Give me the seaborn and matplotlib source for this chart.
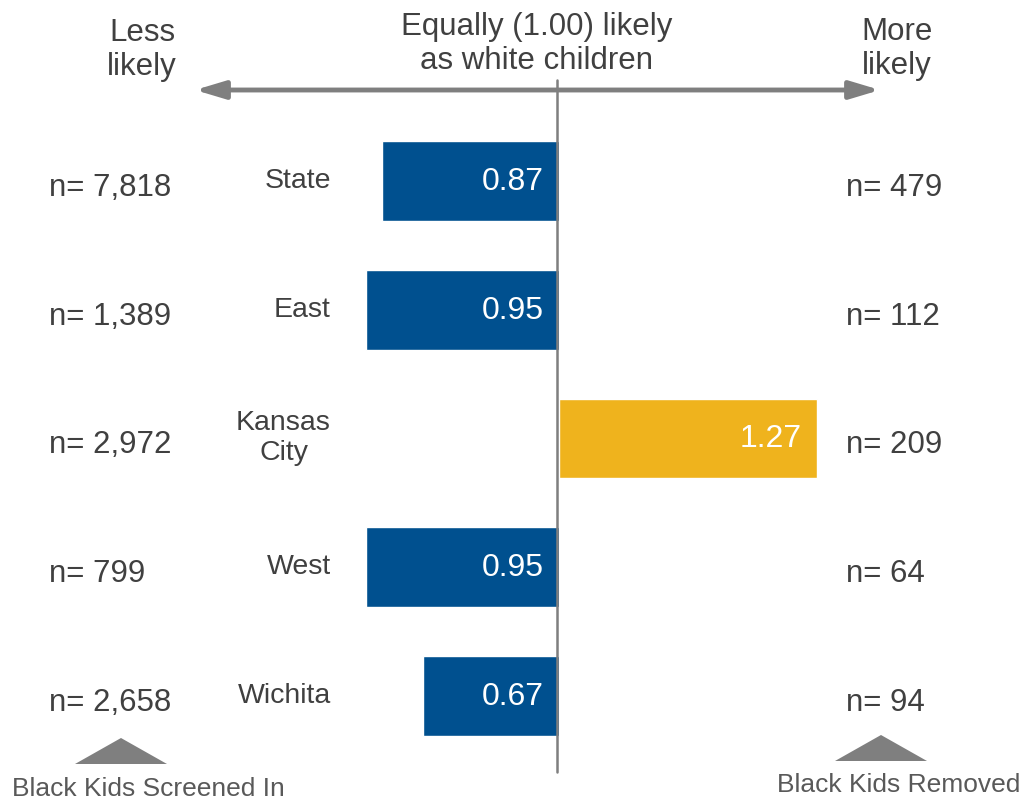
import numpy as np
import pandas as pd
import matplotlib
matplotlib.use("Agg")
import matplotlib.pyplot as plt
from matplotlib.patches import Polygon
import seaborn as sns

# data
regions = ["State", "East", "Kansas\nCity", "West", "Wichita"]
ratios = [0.87, 0.95, 1.27, 0.95, 0.67]
n_screened = ["7,818", "1,389", "2,972", "799", "2,658"]
n_removed = ["479", "112", "209", "64", "94"]

blue = "#00508F"
gold = "#EFB31D"
grey = "#7F7F7F"
txt = "#404040"

# bars point left when below 1.00, right when above
signed = [-r if r < 1 else r for r in ratios]
df = pd.DataFrame({"region": regions, "value": signed, "ratio": ratios})
colors = [gold if r > 1 else blue for r in ratios]

sns.set_theme(style="white")
plt.rcParams["font.family"] = ["Liberation Sans", "DejaVu Sans"]

W, H = 1023, 800
fig = plt.figure(figsize=(W / 100, H / 100), dpi=100)
ax = fig.add_axes([0, 0, 1, 1])

sns.barplot(data=df, x="value", y="region", hue="region", palette=colors,
            orient="h", width=0.62, legend=False, ax=ax, saturation=1)

# map pixels of the original layout onto data space
x0_px, scale = 559, 203.0      # centre line, px per unit
y0_px, step = 181, 128.7       # first row centre, px per row
ax.set_xlim(-x0_px / scale, (W - x0_px) / scale)
ax.set_ylim((H - y0_px) / step, -y0_px / step)
ax.axis("off")


def P(px, py):
    return (px - x0_px) / scale, (py - y0_px) / step


# value labels inside bars
for i, (v, r) in enumerate(zip(signed, ratios)):
    end = max(v, 0)
    ax.text(end - 15 / scale, i + 1 / step, f"{r:.2f}", color="white",
            fontsize=23, ha="right", va="center")

# region names and n= counts
for i, (name, a, b) in enumerate(zip(regions, n_screened, n_removed)):
    ax.text(P(331, 0)[0], i, name, color=txt, fontsize=20.5, ha="right",
            va="center", multialignment="center", linespacing=1.2)
    ax.text(P(49, 0)[0], i + 7 / step, f"n= {a}", color=txt, fontsize=22.5,
            ha="left", va="center")
    ax.text(P(846, 0)[0], i + 7 / step, f"n= {b}", color=txt, fontsize=22.5,
            ha="left", va="center")

# centre line
ax.plot([P(557, 0)[0]] * 2, [P(0, 80)[1], P(0, 772)[1]], color=grey, lw=1.8,
        zorder=5)

# double arrow
ax.annotate("", xy=P(195, 90), xytext=P(880, 90),
            arrowprops=dict(arrowstyle="<|-|>,head_length=1.5,head_width=0.45",
                            color=grey, lw=3.5, shrinkA=0, shrinkB=0))

ax.text(*P(142, 50), "Less\nlikely", color=txt, fontsize=22.5, ha="center",
        va="center", linespacing=1.2)
ax.text(*P(897, 49), "More\nlikely", color=txt, fontsize=22.5, ha="center",
        va="center", linespacing=1.2)
ax.text(*P(537, 44), "Equally (1.00) likely\nas white children", color=txt,
        fontsize=22.5, ha="center", va="center", linespacing=1.2)

# bottom triangles and captions
for cx, base, top in [(121, 764, 738), (881, 761, 735)]:
    tri = Polygon([P(cx - 46, base), P(cx + 46, base), P(cx, top)],
                  closed=True, color=grey, lw=0)
    ax.add_patch(tri)
ax.text(*P(148, 789), "Black Kids Screened In", color="#595959", fontsize=19,
        ha="center", va="center")
ax.text(*P(899, 785), "Black Kids Removed", color="#595959", fontsize=19,
        ha="center", va="center")

fig.savefig("out.png", dpi=100)
